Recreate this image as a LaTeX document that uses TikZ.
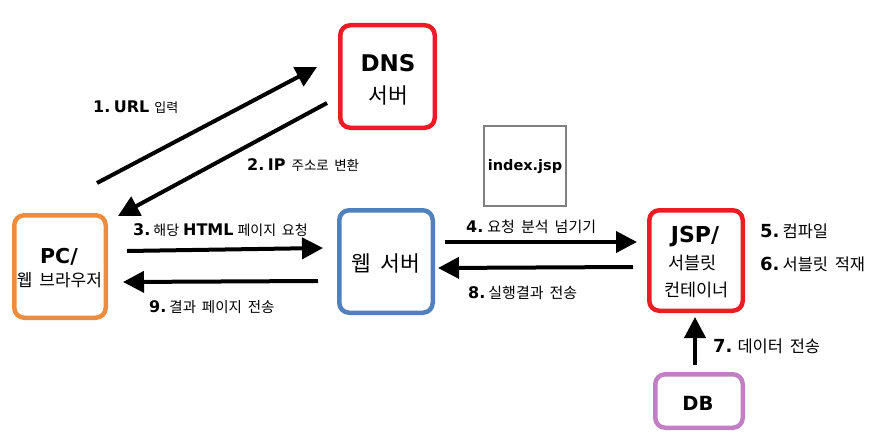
\documentclass[tikz,border=0pt]{standalone}
\usepackage{fontspec}
\setmainfont{DejaVu Sans}
\newfontfamily\krfont{Noto Sans CJK KR}[WordSpace=1.8]
\usetikzlibrary{arrows.meta,calc}
\definecolor{bred}{RGB}{237,28,36}
\definecolor{borange}{RGB}{237,140,62}
\definecolor{bblue}{RGB}{79,129,189}
\definecolor{bpurple}{RGB}{194,128,196}
\definecolor{bgray}{RGB}{128,128,128}
\newcommand\LB[2]{{\fontsize{#1}{#1}\selectfont\bfseries #2}}
\newcommand\KR[2]{{\krfont\fontsize{#1}{#1}\selectfont #2}}
\begin{document}
\begin{tikzpicture}[x=1pt,y=-1pt,
  box/.style={draw,line width=4.5pt,rounded corners=10pt,inner sep=0pt,outer sep=0pt,fill=white},
  arr/.style={line width=4pt,-{Triangle[length=21pt,width=21pt]}},
  lbl/.style={anchor=base west,inner sep=0pt},
  txt/.style={anchor=center,inner sep=0pt}]
\useasboundingbox[fill=white] (0,0) rectangle (876,444);
% boxes
\node[box,draw=bred,minimum width=94.5pt,minimum height=102.5pt] (dns) at (387.5,76.5) {};
\node[box,draw=borange,minimum width=91.5pt,minimum height=102.5pt] (pc) at (60,266.5) {};
\node[box,draw=bblue,minimum width=93.5pt,minimum height=102.5pt] (web) at (386,261.5) {};
\node[box,draw=bred,minimum width=93.5pt,minimum height=100.5pt] (jsp) at (696,260.5) {};
\node[box,draw=bpurple,minimum width=87.5pt,minimum height=53.5pt] (db) at (699,401) {};
\node[draw=bgray,line width=2pt,inner sep=0pt,minimum width=82pt,minimum height=80pt] (idx) at (525,166) {};
% box texts
\node[txt] (tdns) at (388,63) {\LB{23}{DNS}};
\node[txt] (tdns2) at (388,95) {\KR{21.5}{서버}};
\node[txt] (tpc) at (59,256.5) {\LB{20.5}{PC/}};
\node[txt] (tpc2) at (59.5,280) {\KR{17}{웹 브라우저}};
\node[txt] (tweb) at (386,263) {\KR{21.5}{웹 서버}};
\node[txt] (tjsp) at (695,237) {\LB{22}{JSP/}};
\node[txt] (tjsp2) at (692.5,262.5) {\KR{17.5}{서블릿}};
\node[txt] (tjsp3) at (696.5,290) {\KR{17.5}{컨테이너}};
\node[txt] (tdb) at (698,403) {\LB{19.5}{DB}};
\node[txt] (tidx) at (525,167) {\LB{14.5}{index.jsp}};
% arrows
\draw[arr] ([shift={(37,-83.5)}]pc.center) -- ([shift={(-70.5,-9.5)}]dns.center);
\draw[arr] ([shift={(-60.5,26.5)}]dns.center) -- ([shift={(58,-50.5)}]pc.center);
\draw[arr] ([shift={(67,-15.5)}]pc.center) -- ([shift={(-63,-13.5)}]web.center);
\draw[arr] ([shift={(-68,19.5)}]web.center) -- ([shift={(63,15.5)}]pc.center);
\draw[arr] ([shift={(59,-19.5)}]web.center) -- ([shift={(-59,-18.5)}]jsp.center);
\draw[arr] ([shift={(-63,6.5)}]jsp.center) -- ([shift={(52,6.5)}]web.center);
\draw[arr] ([shift={(-4,-36)}]db.center) -- ([shift={(-1,56.5)}]jsp.center);
% labels
\node[lbl] (l1) at (93,112.5) {\LB{16}{1.\hspace{3.5pt}URL}\hspace{5pt}\KR{13}{입력}};
\node[lbl] (l2) at (247,170) {\LB{16}{2.\hspace{3.5pt}IP}\hspace{6pt}\KR{13.5}{주소로 변환}};
\node[lbl] (l3) at (133,235) {\LB{16}{3.}\hspace{3pt}\KR{14}{해당}\hspace{4pt}\LB{16}{HTML}\hspace{4pt}\KR{14}{페이지 요청}};
\node[lbl] (l9) at (149,312) {\LB{16}{9.}\hspace{3pt}\KR{14.5}{결과 페이지 전송}};
\node[lbl] (l4) at (466,232) {\LB{16}{4.}\hspace{4pt}\KR{15}{요청 분석 넘기기}};
\node[lbl] (l8) at (468,298) {\LB{16}{8.}\hspace{3pt}\KR{15}{실행결과 전송}};
\node[lbl] (l5) at (760,237) {\LB{18}{5.}\hspace{3pt}\KR{16.5}{컴파일}};
\node[lbl] (l6) at (760,270) {\LB{18}{6.}\hspace{3pt}\KR{16.5}{서블릿 적재}};
\node[lbl] (l7) at (713,352) {\LB{18}{7.}\hspace{5pt}\KR{16.5}{데이터 전송}};
\end{tikzpicture}
\end{document}
